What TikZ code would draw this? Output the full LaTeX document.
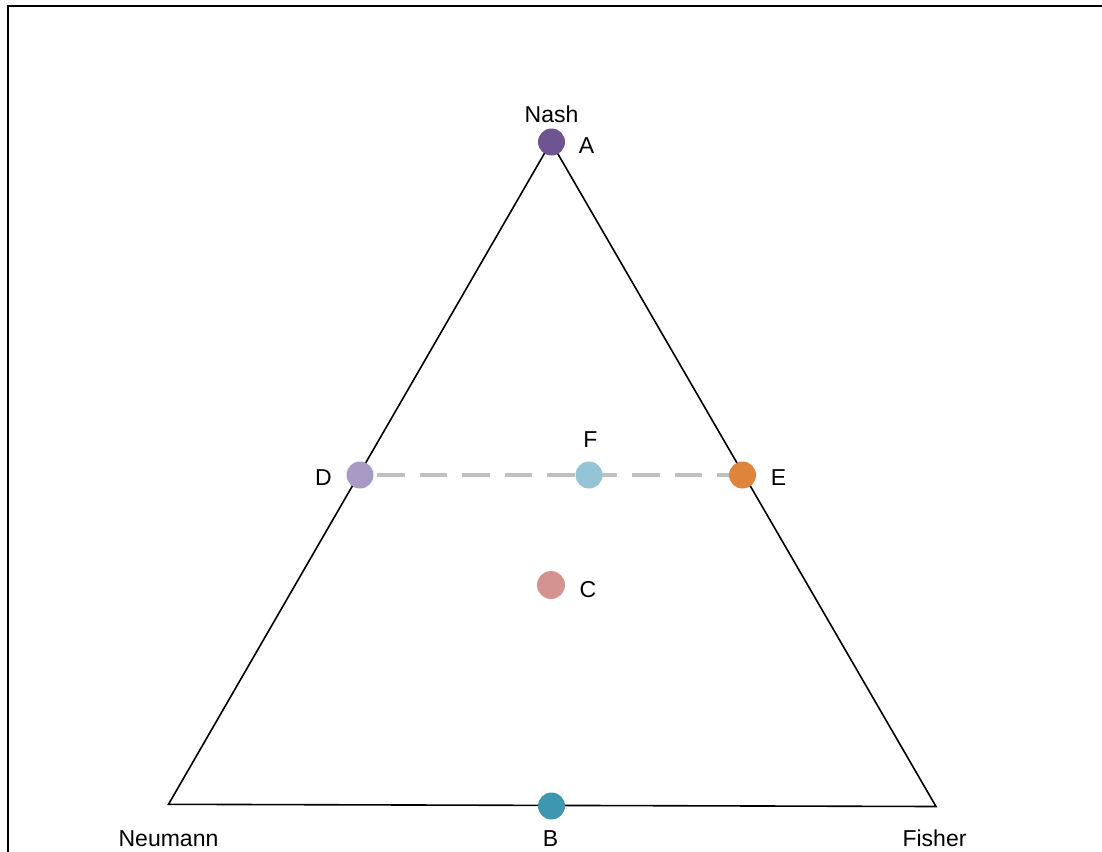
\documentclass[tikz,border=0pt]{standalone}
\usepackage{fontspec}
\setmainfont{Liberation Sans}
\usepackage{tikz}
\usetikzlibrary{backgrounds,positioning}
\usepackage{xcolor}
\definecolor{colA}{HTML}{6E5592}
\definecolor{colB}{HTML}{3E97AE}
\definecolor{colC}{HTML}{D49291}
\definecolor{colD}{HTML}{A99AC5}
\definecolor{colE}{HTML}{DF843B}
\definecolor{colF}{HTML}{93C5D7}

\begin{document}
\begin{tikzpicture}[x=1pt,y=-1pt,
	dot/.style={circle, inner sep=0pt, minimum size=27pt},
	lbl/.style={anchor=base, inner sep=0pt, font=\fontsize{23}{27}\selectfont},
	edge/.style={line width=1.6pt, line join=miter},
	midline/.style={line width=4pt, black!25, dash pattern=on 27.5pt off 15pt, dash phase=25.5pt}]
	\useasboundingbox (0,0) rectangle (1102,851);
	% frame
	\draw[line width=2.5pt] (8,853) -- (8,6.2) -- (1104,6.2);

	% corners of the triangle
	\coordinate (nash) at (551,142);
	\coordinate (neumann) at (168.5,804.3);
	\coordinate (fisher) at (936,806.5);

	% points
	\node[dot, fill=colA] (A) at (551.5,142) {};
	\node[dot, fill=colB] (B) at (551.5,806) {};
	\node[dot, fill=colC, minimum size=28pt] (C) at (551,585) {};
	\node[dot, fill=colD] (D) at (360,475) {};
	\node[dot, fill=colE] (E) at (742.5,475) {};
	\node[dot, fill=colF] (F) at (589,475) {};

	\begin{scope}[on background layer]
		\draw[edge] (nash) -- (neumann) -- (fisher) -- cycle;
		\draw[midline] (D.center) -- (E.center);
	\end{scope}

	% labels
	\node[lbl] (nashlbl) at (551.5,122) {Nash};
	\node[lbl] (neumannlbl) at (168.5,846) {Neumann};
	\node[lbl] (fisherlbl) at (934.5,846) {Fisher};
	\node[lbl] (Albl) at (586.5,153) {A};
	\node[lbl] (Blbl) at (550.5,846) {B};
	\node[lbl] (Clbl) at (588,597) {C};
	\node[lbl] (Dlbl) at (323.5,485) {D};
	\node[lbl] (Elbl) at (778.5,485) {E};
	\node[lbl] (Flbl) at (590.5,447) {F};
\end{tikzpicture}
\end{document}
